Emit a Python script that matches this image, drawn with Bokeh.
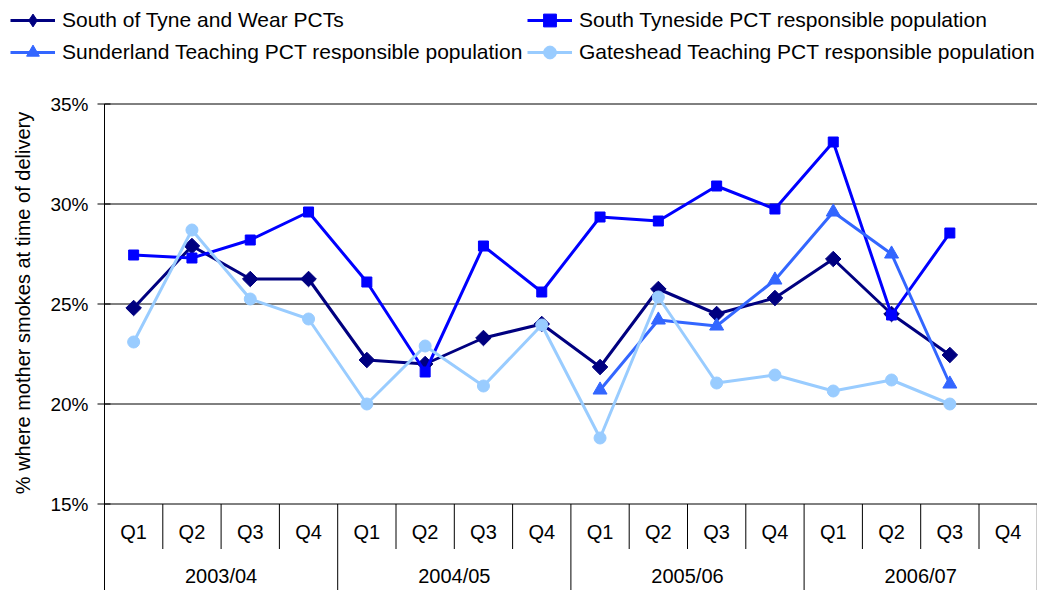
import math
from bokeh.plotting import figure
from bokeh.models import Range1d, Legend, LegendItem
from bokeh.embed import file_html
from bokeh.resources import INLINE
from bokeh.core.properties import value

nan = float("nan")

# ---------------- data ----------------
quarters = ["Q1", "Q2", "Q3", "Q4"] * 4
years = ["2003/04", "2004/05", "2005/06", "2006/07"]
south_of_tyne = [24.8, 27.9, 26.25, 26.25, 22.2, 22.0, 23.3, 24.0,
                 21.85, 25.75, 24.5, 25.3, 27.25, 24.5, 22.45, nan]
south_tyneside = [27.45, 27.3, 28.2, 29.6, 26.1, 21.6, 27.9, 25.6,
                  29.35, 29.15, 30.9, 29.75, 33.1, 24.45, 28.55, nan]
sunderland = [nan, nan, nan, nan, nan, nan, nan, nan,
              20.7, 24.2, 23.9, 26.2, 29.6, 27.5, 21.0, nan]
gateshead = [23.1, 28.7, 25.25, 24.25, 20.0, 22.9, 20.9, 23.95,
             18.3, 25.35, 21.05, 21.45, 20.65, 21.2, 20.0, nan]
y_ticks = [15, 20, 25, 30, 35]
y_tick_labels = ["15%", "20%", "25%", "30%", "35%"]
series_names = ["South of Tyne and Wear PCTs",
                "South Tyneside PCT responsible population",
                "Sunderland Teaching PCT responsible population",
                "Gateshead Teaching PCT responsible population"]

# ---------------- layout constants ----------------
W, H = 1037, 590
PX_X = 58.3           # px per category
PX_Y = 20.0           # px per percentage point
LEFT = 104            # px from canvas left to plot area
TOP = 103.5           # px from canvas top to 35% line
FONT = value("Liberation Sans")

x0 = -LEFT / PX_X
x1 = (W - LEFT) / PX_X
y1 = 35 + TOP / PX_Y
y0 = 35 - (H - TOP) / PX_Y

p = figure(width=W, height=H, x_range=Range1d(x0, x1), y_range=Range1d(y0, y1),
           output_backend="svg", toolbar_location=None, min_border=0,
           x_axis_location=None, y_axis_location=None)
p.grid.visible = False
p.outline_line_color = None
p.background_fill_color = "white"
p.border_fill_color = "white"

n = len(quarters)
xc = [i + 0.5 for i in range(n)]

# gridlines
p.segment(x0=[0] * len(y_ticks), y0=y_ticks, x1=[n] * len(y_ticks), y1=y_ticks,
          line_color="black", line_width=1)
# y axis line + ticks
p.segment(x0=[0], y0=[35], x1=[0], y1=[y0], line_color="black", line_width=1)
p.segment(x0=[-7 / PX_X] * len(y_ticks), y0=y_ticks, x1=[6 / PX_X] * len(y_ticks), y1=y_ticks,
          line_color="black", line_width=1)
p.text(x=[-16 / PX_X] * len(y_ticks), y=y_ticks, text=y_tick_labels,
       text_align="right", text_baseline="middle", text_font=FONT,
       text_font_size="19px", text_color="black")
# y axis title
p.text(x=[-82 / PX_X], y=[35 - 199 / PX_Y], text=["% where mother smokes at time of delivery"],
       angle=math.pi / 2, text_align="center", text_baseline="middle",
       text_font=FONT, text_font_size="20px", text_color="black")

# category separators
qsep = [i for i in range(1, n) if i % 4 != 0]
ysep = [i for i in range(0, n + 1, 4)]
p.segment(x0=qsep, y0=[15] * len(qsep), x1=qsep, y1=[15 - 45 / PX_Y] * len(qsep),
          line_color="black", line_width=1)
p.segment(x0=ysep, y0=[15] * len(ysep), x1=ysep, y1=[y0] * len(ysep),
          line_color="black", line_width=1)
p.text(x=xc, y=[15 - 28 / PX_Y] * n, text=quarters, text_align="center",
       text_baseline="middle", text_font=FONT, text_font_size="20px", text_color="black")
p.text(x=[2 + 4 * k for k in range(len(years))], y=[15 - 72 / PX_Y] * len(years),
       text=years, text_align="center", text_baseline="middle", text_font=FONT,
       text_font_size="20px", text_color="black")

# series: (values, colour, marker, size, angle, legend marker)
specs = [
    (south_of_tyne, "#000080", "square", 11, math.pi / 4, "diamond"),
    (south_tyneside, "#0000FF", "square", 10, 0.0, "square"),
    (sunderland, "#3366FF", "triangle", 14, 0.0, "triangle"),
    (gateshead, "#99CCFF", "circle", 12, 0.0, "circle"),
]
items = {}
for name, (vals, col, mk, sz, ang, lmk) in zip(series_names, specs):
    lr = p.line(xc, vals, line_color=col, line_width=3)
    sr = p.scatter(xc, vals, marker=mk, size=sz, angle=ang,
                   fill_color=col, line_color=col)
    if lmk != mk:
        # legend-only marker (its single point is missing, so nothing is plotted)
        sr = p.scatter(x=[nan], y=[nan], marker=lmk, size=sz, fill_color=col, line_color=col)
    items[name] = LegendItem(label=name, renderers=[lr, sr])

# legend filled column by column: left column first, then right column
legend_order = [series_names[0], series_names[2], series_names[1], series_names[3]]
legend = Legend(items=[items[k] for k in legend_order], location=(10, H - 3.5 - 64), ncols=2,
                label_text_font="Liberation Sans", label_text_font_size="21px",
                label_text_color="black",
                glyph_width=45, glyph_height=32, label_height=32, label_standoff=7,
                label_width=465, spacing=0, padding=0, margin=0,
                border_line_color=None, background_fill_alpha=0)
p.add_layout(legend)

open("out.html", "w").write(file_html(p, INLINE))
